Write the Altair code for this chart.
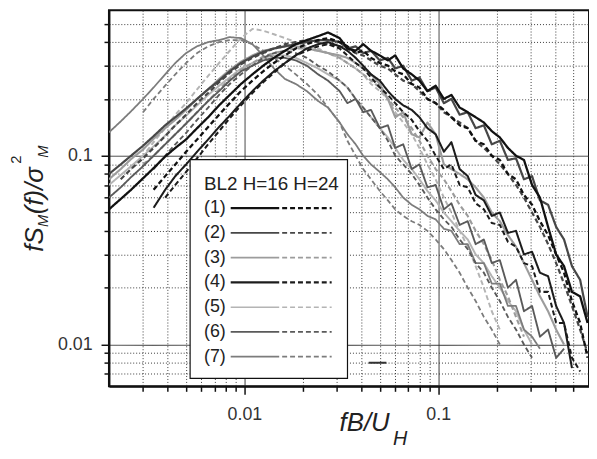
import altair as alt
import pandas as pd

FONT = "Liberation Sans"

# shared frequency grid (fB/U_H) at which the curves were read
X_GRID = [0.002, 0.0023, 0.0026, 0.003, 0.0034, 0.0039, 0.0044, 0.005, 0.0057, 0.0065,
          0.0074, 0.0084, 0.0096, 0.011, 0.0125, 0.0142, 0.0162, 0.0184, 0.021, 0.024, 0.027,
          0.031, 0.034, 0.0375, 0.041, 0.045, 0.05, 0.055, 0.06, 0.066, 0.073, 0.08, 0.088,
          0.097, 0.107, 0.117, 0.129, 0.142, 0.156, 0.172, 0.189, 0.208, 0.229, 0.252, 0.277,
          0.305, 0.335, 0.369, 0.406, 0.446, 0.49, 0.54, 0.59]

# (start index into X_GRID, values)
S1_16 = (0, [0.052, 0.059, 0.066, 0.076, 0.086, 0.099, 0.11, 0.122, 0.14, 0.16,
             0.185, 0.21, 0.24, 0.27, 0.3, 0.33, 0.36, 0.39, 0.41, 0.43, 0.45,
             0.42, 0.37, 0.36, 0.39, 0.36, 0.34, 0.32, 0.34, 0.29, 0.27, 0.25, 0.22,
             0.235, 0.2, 0.21, 0.18, 0.17, 0.16, 0.15, 0.135, 0.125, 0.11, 0.1, 0.095,
             0.07, 0.06, 0.042, 0.03, 0.026, 0.019, 0.018, 0.013])
S1_24 = (4, [0.066, 0.078, 0.09, 0.105, 0.122, 0.142,
             0.165, 0.19, 0.22, 0.25, 0.28, 0.31, 0.34, 0.37, 0.39, 0.41, 0.42,
             0.4, 0.38, 0.35, 0.36, 0.33, 0.31, 0.3, 0.28, 0.27, 0.24, 0.23, 0.2,
             0.19, 0.175, 0.16, 0.145, 0.14, 0.12, 0.115, 0.1, 0.095, 0.08, 0.075, 0.062,
             0.055, 0.045, 0.038, 0.03, 0.024, 0.017, 0.013, 0.0085])
S2_16 = (0, [0.08, 0.09, 0.1, 0.113, 0.127, 0.145, 0.16, 0.178, 0.2, 0.225,
             0.25, 0.28, 0.31, 0.335, 0.355, 0.37, 0.38, 0.39, 0.4, 0.41, 0.41,
             0.4, 0.37, 0.38, 0.35, 0.36, 0.32, 0.33, 0.29, 0.3, 0.25, 0.26, 0.22,
             0.23, 0.19, 0.2, 0.165, 0.17, 0.14, 0.145, 0.115, 0.12, 0.095, 0.097, 0.075,
             0.078, 0.058, 0.055, 0.042, 0.036, 0.026, 0.022, 0.014])
S2_24 = (1, [0.075, 0.085, 0.097, 0.11, 0.127, 0.145, 0.165, 0.19, 0.215,
             0.245, 0.275, 0.305, 0.33, 0.35, 0.37, 0.39, 0.4, 0.41, 0.4, 0.39,
             0.38, 0.37, 0.35, 0.34, 0.32, 0.3, 0.29, 0.27, 0.25, 0.24, 0.22, 0.2,
             0.19, 0.17, 0.16, 0.15, 0.14, 0.12, 0.11, 0.1, 0.09, 0.08, 0.07, 0.06,
             0.05, 0.042, 0.034, 0.027, 0.021, 0.016, 0.012, 0.009])
S3_16 = (0, [0.075, 0.085, 0.096, 0.108, 0.123, 0.14, 0.155, 0.175, 0.2, 0.225,
             0.255, 0.285, 0.315, 0.34, 0.36, 0.37, 0.38, 0.38, 0.37, 0.36, 0.35,
             0.34, 0.33, 0.31, 0.29, 0.27, 0.24, 0.2, 0.16, 0.17, 0.13, 0.125, 0.15,
             0.13, 0.09, 0.085, 0.08, 0.075, 0.068, 0.06, 0.05, 0.045, 0.038, 0.033, 0.027,
             0.022, 0.018, 0.015, 0.012, 0.01])
S3_24 = (3, [0.09, 0.1, 0.115, 0.13, 0.148, 0.17, 0.195,
             0.225, 0.255, 0.285, 0.31, 0.335, 0.35, 0.36, 0.37, 0.37, 0.36, 0.35,
             0.33, 0.31, 0.29, 0.27, 0.25, 0.23, 0.2, 0.18, 0.16, 0.14, 0.12, 0.1,
             0.085, 0.075, 0.065, 0.055, 0.048, 0.04, 0.034, 0.028, 0.022, 0.018, 0.014, 0.011])
S4_16 = (4, [0.053, 0.066, 0.078, 0.09, 0.105, 0.122,
             0.142, 0.163, 0.19, 0.22, 0.25, 0.28, 0.31, 0.34, 0.37, 0.39, 0.4,
             0.38, 0.36, 0.33, 0.3, 0.27, 0.25, 0.22, 0.2, 0.185, 0.175, 0.16, 0.14,
             0.13, 0.105, 0.118, 0.085, 0.078, 0.062, 0.058, 0.048, 0.05, 0.039, 0.04, 0.03,
             0.031, 0.024, 0.023, 0.016, 0.013, 0.0075])
S4_24 = (5, [0.06, 0.07, 0.082, 0.097, 0.115,
             0.135, 0.158, 0.185, 0.215, 0.245, 0.275, 0.31, 0.34, 0.36, 0.38, 0.39,
             0.37, 0.34, 0.31, 0.29, 0.26, 0.23, 0.21, 0.19, 0.17, 0.155, 0.135, 0.12,
             0.1, 0.085, 0.09, 0.07, 0.068, 0.056, 0.052, 0.044, 0.043, 0.035, 0.033, 0.027,
             0.026, 0.019, 0.019, 0.013, 0.013, 0.0085, 0.0072])
S5_16 = (0, [0.07, 0.079, 0.088, 0.1, 0.112, 0.128, 0.145, 0.163, 0.185, 0.21,
             0.235, 0.26, 0.29, 0.31, 0.33, 0.34, 0.34, 0.33, 0.31, 0.29, 0.27,
             0.25, 0.23, 0.2, 0.18, 0.16, 0.14, 0.125, 0.11, 0.095, 0.085, 0.075, 0.065,
             0.058, 0.05, 0.045, 0.04, 0.036, 0.03, 0.027, 0.023, 0.02, 0.017, 0.015, 0.012,
             0.01])
S5_24 = (2, [0.085, 0.1, 0.118, 0.14, 0.165, 0.19, 0.225, 0.265,
             0.31, 0.36, 0.42, 0.47, 0.46, 0.44, 0.42, 0.4, 0.38, 0.37, 0.35,
             0.33, 0.31, 0.29, 0.27, 0.24, 0.22, 0.2, 0.17, 0.15, 0.13, 0.11, 0.09,
             0.075, 0.06, 0.05, 0.04, 0.033, 0.026, 0.02, 0.015, 0.012])
S6_16 = (0, [0.06, 0.068, 0.077, 0.088, 0.1, 0.115, 0.13, 0.148, 0.17, 0.195,
             0.22, 0.25, 0.28, 0.3, 0.32, 0.33, 0.33, 0.32, 0.3, 0.27, 0.25,
             0.22, 0.19, 0.2, 0.17, 0.175, 0.14, 0.145, 0.11, 0.115, 0.085, 0.09, 0.068,
             0.07, 0.052, 0.056, 0.043, 0.045, 0.034, 0.036, 0.027, 0.028, 0.02, 0.022, 0.015,
             0.016, 0.011, 0.012, 0.0085, 0.0095])
S6_24 = (4, [0.085, 0.1, 0.115, 0.132, 0.155, 0.18,
             0.21, 0.24, 0.27, 0.3, 0.33, 0.35, 0.36, 0.35, 0.33, 0.3, 0.28,
             0.25, 0.23, 0.2, 0.18, 0.16, 0.14, 0.12, 0.1, 0.09, 0.08, 0.07, 0.06,
             0.052, 0.046, 0.042, 0.036, 0.032, 0.027, 0.024, 0.02, 0.017, 0.014, 0.012, 0.01,
             0.0085])
S7_16 = (0, [0.133, 0.152, 0.172, 0.2, 0.23, 0.27, 0.31, 0.35, 0.38, 0.4,
             0.41, 0.425, 0.42, 0.39, 0.34, 0.29, 0.255, 0.24, 0.22, 0.195, 0.18,
             0.15, 0.13, 0.115, 0.1, 0.09, 0.082, 0.075, 0.068, 0.06, 0.055, 0.052, 0.048,
             0.046, 0.041, 0.04, 0.034, 0.034, 0.027, 0.027, 0.021, 0.021, 0.016, 0.016, 0.012,
             0.011, 0.0095])
S7_24 = (3, [0.17, 0.2, 0.235, 0.27, 0.31, 0.35, 0.38,
             0.4, 0.41, 0.41, 0.39, 0.36, 0.33, 0.3, 0.27, 0.24, 0.21, 0.18,
             0.15, 0.12, 0.1, 0.085, 0.075, 0.065, 0.058, 0.052, 0.048, 0.045, 0.043, 0.04,
             0.036, 0.032, 0.028, 0.024, 0.02, 0.017, 0.014, 0.012, 0.01])

STRAY_X = [0.0438, 0.054]
STRAY_Y = [0.008, 0.008]

X_TICKS = [0.003, 0.004, 0.005, 0.006, 0.007, 0.008, 0.009, 0.01,
           0.02, 0.03, 0.04, 0.05, 0.06, 0.07, 0.08, 0.09, 0.1,
           0.2, 0.3, 0.4, 0.5]
Y_TICKS = [0.007, 0.008, 0.009, 0.01, 0.02, 0.03, 0.04, 0.05, 0.06, 0.07, 0.08, 0.09,
           0.1, 0.2, 0.3, 0.4, 0.5]

CASES = ["1", "2", "3", "4", "5", "6", "7"]
HEIGHTS = ["16", "24"]
LEGEND_TITLE = "BL2 H=16 H=24"

CASE_COLORS = ["#111111", "#474747", "#9c9c9c", "#1c1c1c", "#b4b4b4", "#5a5a5a", "#7c7c7c"]
CASE_WIDTHS = [2.3, 1.8, 1.8, 2.3, 1.4, 1.8, 1.8]

SERIES = [("5", "16", S5_16), ("5", "24", S5_24), ("3", "16", S3_16), ("3", "24", S3_24),
          ("7", "16", S7_16), ("7", "24", S7_24), ("6", "16", S6_16), ("6", "24", S6_24),
          ("2", "16", S2_16), ("2", "24", S2_24), ("4", "16", S4_16), ("4", "24", S4_24),
          ("1", "16", S1_16), ("1", "24", S1_24)]

rows = []
for case, h, (start, vals) in SERIES:
    for i, v in enumerate(vals):
        rows.append({"x": X_GRID[start + i], "y": v, "case": case, "h": h,
                     "key": f"{case}-{h}", "order": i})
df = pd.DataFrame(rows)
stray = pd.DataFrame({"x": STRAY_X, "y": STRAY_Y})

MAJOR = "datum.value == 0.01 || datum.value == 0.1"


def make_axis(label_padding):
    return dict(
        title=None, grid=True,
        gridDash={"condition": {"test": MAJOR, "value": [1, 0]}, "value": [1, 2]},
        gridColor={"condition": {"test": MAJOR, "value": "#333333"}, "value": "#3a3a3a"},
        gridWidth=1,
        tickSize={"condition": {"test": MAJOR, "value": 8}, "value": 5},
        tickColor="#111111", tickWidth=1.5,
        domainColor="#111111", domainWidth=2,
        labelExpr="datum.value == 0.01 ? '0.01' : (datum.value == 0.1 ? '0.1' : '')",
        labelFont=FONT, labelFontSize=18, labelColor="#333333",
        labelPadding=label_padding, labelOverlap=False, labelFlush=False, labelBound=False,
    )


xs = alt.Scale(type="log", domain=[0.002, 0.6], nice=False, zero=False)
ys = alt.Scale(type="log", domain=[0.006, 0.59], nice=False, zero=False)

lines = alt.Chart(df).mark_line(clip=True, strokeJoin="round").encode(
    x=alt.X("x:Q", scale=xs, axis=alt.Axis(values=X_TICKS, **make_axis(11))),
    y=alt.Y("y:Q", scale=ys, axis=alt.Axis(values=Y_TICKS, **make_axis(9))),
    color=alt.Color("case:N", scale=alt.Scale(domain=CASES, range=CASE_COLORS), legend=None),
    strokeWidth=alt.StrokeWidth("case:N", scale=alt.Scale(domain=CASES, range=CASE_WIDTHS), legend=None),
    strokeDash=alt.StrokeDash("h:N", scale=alt.Scale(domain=HEIGHTS, range=[[1, 0], [5, 3]]), legend=None),
    detail="key:N",
    order="order:Q",
)

stray_line = alt.Chart(stray).mark_line(clip=True, color="#333333", strokeWidth=2).encode(
    x=alt.X("x:Q", scale=xs), y=alt.Y("y:Q", scale=ys)
)

one = pd.DataFrame({"a": [0]})


def txt(s, x, y, size, italic=False, angle=0, align="left", baseline="alphabetic"):
    return alt.Chart(one).mark_text(
        text=s, font=FONT, fontSize=size, fontStyle="italic" if italic else "normal",
        angle=angle, align=align, baseline=baseline, color="#222222"
    ).encode(x=alt.value(x), y=alt.value(y))


layers = [lines, stray_line]

# legend box
layers.append(alt.Chart(one).mark_rect(fill="white", stroke="#111111", strokeWidth=1.2).encode(
    x=alt.value(82), x2=alt.value(241), y=alt.value(151), y2=alt.value(372)))
layers.append(txt(LEGEND_TITLE, 96, 182, 19))
for i, case in enumerate(CASES):
    yy = 200 + 25 * i
    layers.append(txt(f"({case})", 96, yy, 18, baseline="middle"))
    layers.append(alt.Chart(one).mark_rule(color=CASE_COLORS[i], strokeWidth=CASE_WIDTHS[i]).encode(
        x=alt.value(123), x2=alt.value(172), y=alt.value(yy), y2=alt.value(yy)))
    layers.append(alt.Chart(one).mark_rule(color=CASE_COLORS[i], strokeWidth=CASE_WIDTHS[i],
                                           strokeDash=[5, 3]).encode(
        x=alt.value(175), x2=alt.value(225), y=alt.value(yy), y2=alt.value(yy)))

# x axis title  fB/U_H
layers.append(txt("fB/U", 233, 425, 26, italic=True))
layers.append(txt("H", 287, 439, 20, italic=True))
# y axis title  fS_M(f)/sigma^2_M
layers.append(txt("fS", -67, 244, 26, italic=True, angle=270))
layers.append(txt("M", -62, 219, 15, italic=True, angle=270))
layers.append(txt("(f)/σ", -67, 206, 26, italic=True, angle=270))
layers.append(txt("2", -89, 155, 15, italic=False, angle=270))
layers.append(txt("M", -62, 149, 15, italic=True, angle=270))

chart = alt.layer(*layers).properties(
    width=485, height=380,
    padding={"left": 102, "top": 0, "right": 0, "bottom": 60},
    autosize=alt.AutoSizeParams(type="none"),
).configure_view(stroke="#111111", strokeWidth=2)

chart.save("out.html", embed_options={"renderer": "svg", "actions": False})
